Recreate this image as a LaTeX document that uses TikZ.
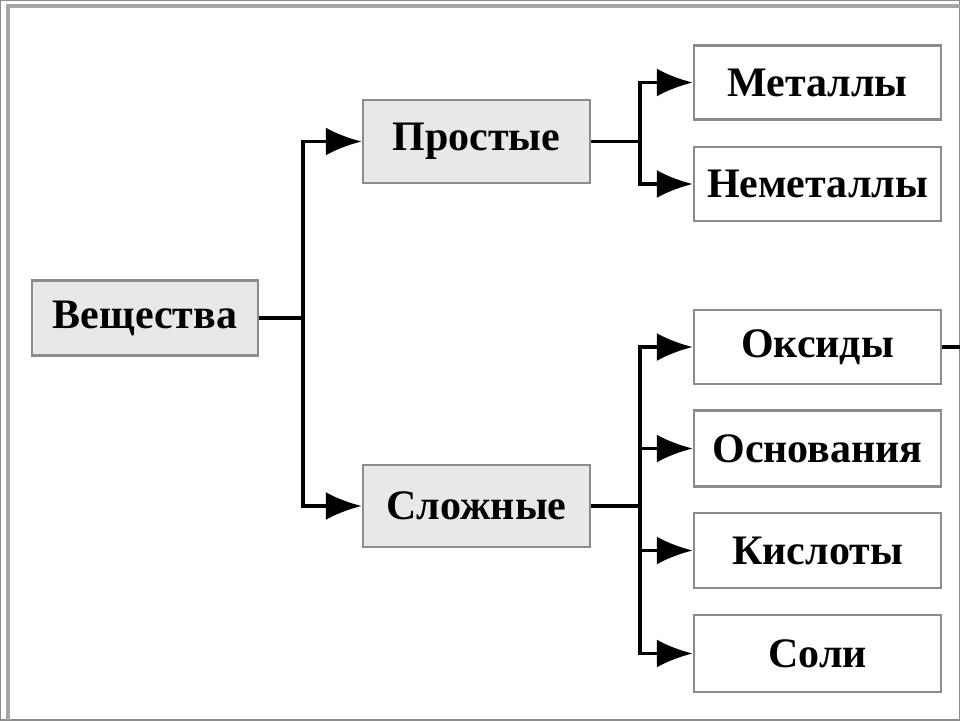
\documentclass[tikz,border=0pt]{standalone}
\usepackage{fontspec}
\setmainfont{Liberation Serif}
\usetikzlibrary{arrows.meta}
\begin{document}
\begin{tikzpicture}[x=1pt,y=-1pt,
  bx/.style={draw=black!45,line width=2.5pt,inner sep=0pt,font=\bfseries\fontsize{42}{44}\selectfont},
  grey/.style={bx,fill=black!9},
  white/.style={bx,fill=white},
  ln/.style={line width=3.5pt},
  ar/.style={ln,-{Latex[length=36pt,width=28pt]}}]
\useasboundingbox (0,0) rectangle (960,720);
\fill[white] (0,0) rectangle (960,720);
\draw[black!35,line width=3.5pt] (8,720) -- (8,6) -- (960,6);
\node[grey,minimum width=226pt,minimum height=75pt] (v) at (145,318) {Вещества};
\node[grey,minimum width=227pt,minimum height=83pt] (p) at (476.5,141.5) {Простые};
\node[grey,minimum width=227pt,minimum height=82pt] (s) at (476.5,506) {Сложные};
\node[white,minimum width=247pt,minimum height=74pt] (m) at (817.5,82.5) {Металлы};
\node[white,minimum width=247pt,minimum height=74pt] (n) at (817.5,184) {Неметаллы};
\node[white,minimum width=247pt,minimum height=74pt] (o) at (817.5,347) {Оксиды};
\node[white,minimum width=247pt,minimum height=76pt] (os) at (817.5,448.5) {Основания};
\node[white,minimum width=247pt,minimum height=75pt] (k) at (817.5,550.5) {Кислоты};
\node[white,minimum width=247pt,minimum height=77pt] (so) at (817.5,653.5) {Соли};
\coordinate (oe) at (960,347);
\draw[ln] (o.east) -- (oe);
\coordinate (j1) at (303,318);
\coordinate (j2) at (640,141.5);
\coordinate (j3) at (640,506);
\draw[ln] (v.east) -- (j1);
\draw[ar] (j1) |- (p.west);
\draw[ar] (j1) |- (s.west);
\draw[ln] (p.east) -- (j2);
\draw[ar] (j2) |- (m.west);
\draw[ar] (j2) |- (n.west);
\draw[ln] (s.east) -- (j3);
\draw[ar] (j3) |- (o.west);
\draw[ar] (j3) |- (os.west);
\draw[ar] (j3) |- (k.west);
\draw[ar] (j3) |- (so.west);
\end{tikzpicture}
\end{document}
